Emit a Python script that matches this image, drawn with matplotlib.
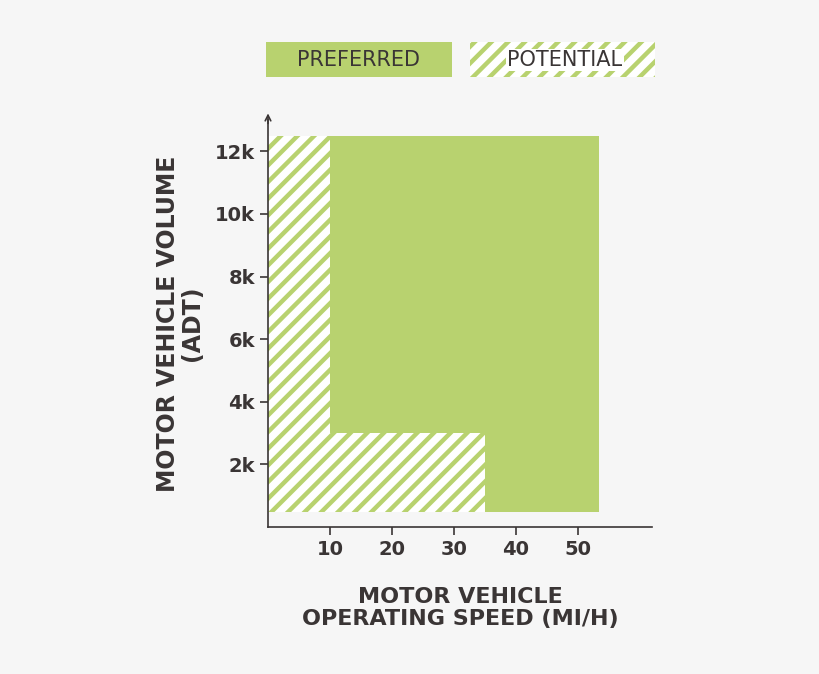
import matplotlib
matplotlib.use("Agg")
import matplotlib.pyplot as plt
from matplotlib.patches import Rectangle
import numpy as np

GREEN = "#b8d26f"
BG = "#f6f6f6"
TXT = "#3a3535"

x_ticks = [10, 20, 30, 40, 50]
y_ticks = [2000, 4000, 6000, 8000, 10000, 12000]
y_labels = ["2k", "4k", "6k", "8k", "10k", "12k"]

# regions: (x0, x1, y0, y1)
preferred = [(10, 53.5, 3000, 12500), (35, 53.5, 480, 3000)]
potential = [(0, 10, 480, 12500), (10, 35, 480, 3000)]

plt.rcParams['hatch.color'] = GREEN
plt.rcParams['hatch.linewidth'] = 3.2
fig = plt.figure(figsize=(8.2, 6.74), dpi=100, facecolor=BG)
ax = fig.add_axes([268/820, 1-527/674, (652-268)/820, (527-120)/674])
ax.set_facecolor(BG)
ax.set_xlim(0, 62)
ax.set_ylim(0, 13000)

for x0, x1, y0, y1 in preferred:
    ax.add_patch(Rectangle((x0, y0), x1 - x0, y1 - y0, facecolor=GREEN, edgecolor="none"))
for x0, x1, y0, y1 in potential:
    ax.add_patch(Rectangle((x0, y0), x1 - x0, y1 - y0, facecolor="white", edgecolor=GREEN, hatch="//", lw=0))

for s in ["top", "right"]:
    ax.spines[s].set_visible(False)
for s in ["left", "bottom"]:
    ax.spines[s].set_color(TXT)
    ax.spines[s].set_linewidth(1.2)
ax.spines["bottom"].set_position(("data", 0))
ax.set_xticks(x_ticks)
ax.set_xticklabels([str(v) for v in x_ticks])
ax.set_yticks(y_ticks)
ax.set_yticklabels(y_labels)
ax.tick_params(colors=TXT, labelsize=14, length=6, width=1.2)
for t in ax.get_xticklabels() + ax.get_yticklabels():
    t.set_fontweight("bold")
ax.annotate("", xy=(0, 13300), xytext=(0, 12800), annotation_clip=False,
            arrowprops=dict(arrowstyle="->", color=TXT, lw=1.2))

ax.set_xlabel("MOTOR VEHICLE\nOPERATING SPEED (MI/H)", fontsize=16, fontweight="bold",
              color=TXT, labelpad=20, linespacing=1.1)
ax.set_ylabel("MOTOR VEHICLE VOLUME\n(ADT)", fontsize=17, fontweight="bold",
              color=TXT, labelpad=8, linespacing=1.0)

# legend
lax = fig.add_axes([0, 0, 1, 1], facecolor="none")
lax.set_xlim(0, 820); lax.set_ylim(674, 0); lax.axis("off")
lax.add_patch(Rectangle((266, 42), 186, 35, facecolor=GREEN, edgecolor="none"))
lax.add_patch(Rectangle((470, 42), 185, 35, facecolor="white", edgecolor=GREEN, hatch="//", lw=0))
lax.text(359, 60, "PREFERRED", ha="center", va="center", fontsize=15, color=TXT)
lax.text(565, 60, "POTENTIAL", ha="center", va="center", fontsize=15, color=TXT,
         bbox=dict(facecolor="white", edgecolor="none", pad=1))

fig.savefig("out.png", dpi=100, facecolor=BG)
